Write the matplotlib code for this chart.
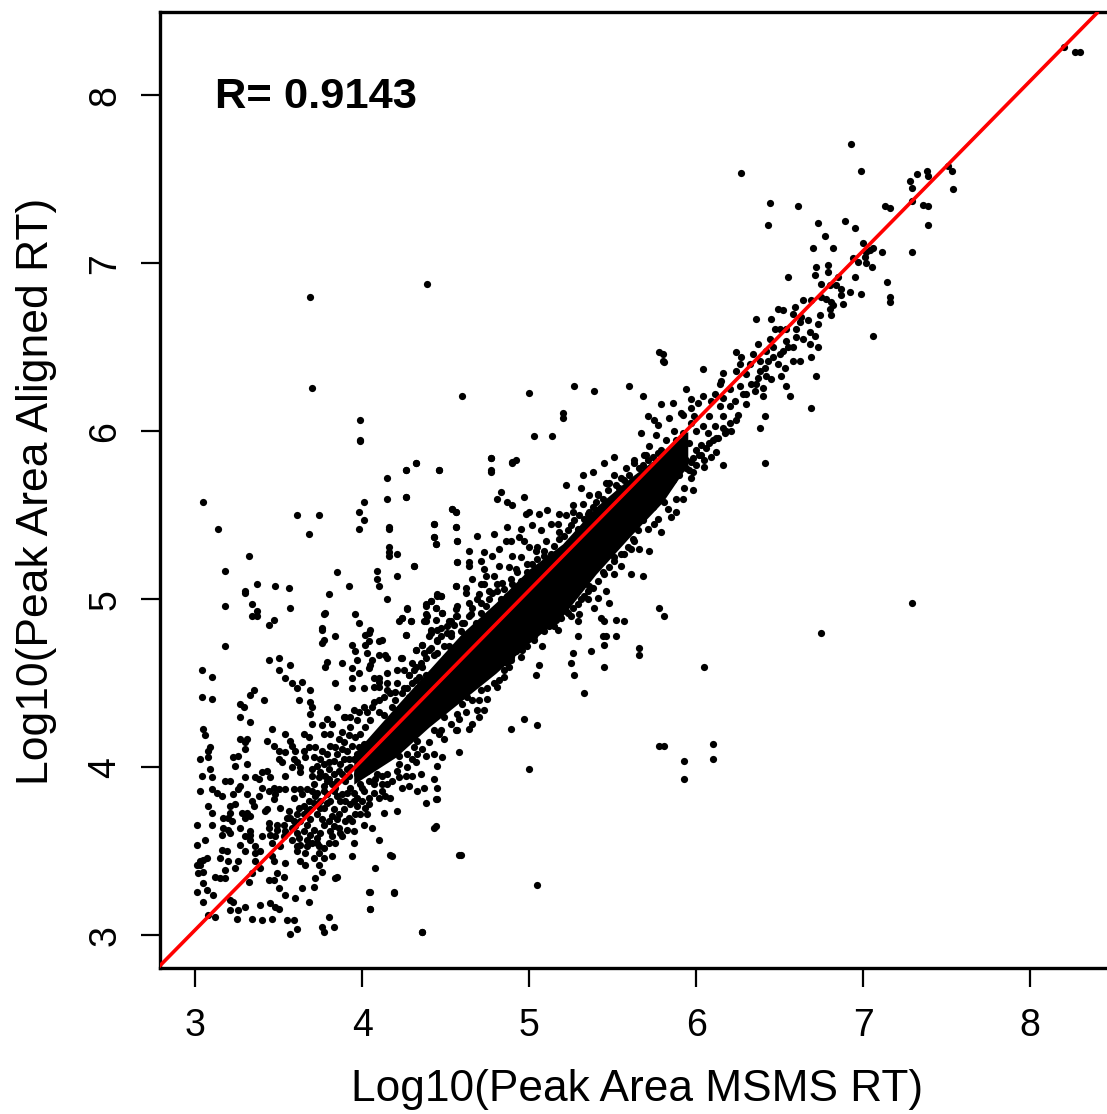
import matplotlib
matplotlib.use("Agg")
import matplotlib.pyplot as plt

plt.rcParams['font.family'] = ['Liberation Sans', 'DejaVu Sans']

x_ticks = [3, 4, 5, 6, 7, 8]
y_ticks = [3, 4, 5, 6, 7, 8]
x_label = "Log10(Peak Area MSMS RT)"
y_label = "Log10(Peak Area Aligned RT)"
r_text = "R= 0.9143"

line_x = [2.79, 8.40]
line_y = [2.82, 8.49]

# solid mass of overlapping points, read as an envelope
core_x = [3.95, 4.20, 4.40, 4.60, 4.80, 5.00, 5.20, 5.40, 5.60, 5.80, 5.95]
core_hi = [4.08, 4.36, 4.58, 4.80, 4.98, 5.18, 5.33, 5.55, 5.72, 5.87, 6.00]
core_lo = [3.90, 4.06, 4.24, 4.40, 4.56, 4.74, 4.90, 5.15, 5.37, 5.58, 5.80]

upper_left = [
 (3.05,5.58),(3.14,5.42),(3.32,5.26),(3.18,5.17),(3.30,5.05),(3.30,5.04),(3.37,5.09),(3.48,5.08),(3.56,5.07),(3.34,4.97),
 (3.18,4.96),(3.57,4.95),(3.37,4.93),(3.34,4.90),(3.37,4.90),(3.47,4.88),(3.44,4.85),(3.18,4.72),(3.04,4.58),(3.10,4.54),
 (3.44,4.64),(3.50,4.65),(3.50,4.58),(3.57,4.61),(3.54,4.53),(3.58,4.50),(3.64,4.51),(3.61,4.47),(3.69,4.46),(3.35,4.46),
 (3.33,4.43),(3.04,4.42),(3.10,4.41),(3.61,5.50),(3.74,5.50),(3.68,5.39),(3.99,5.94),(4.15,5.72),(4.26,5.77),(4.32,5.81),
 (4.46,5.77),(4.01,5.58),(4.15,5.60),(4.26,5.61),(3.98,5.52),(4.01,5.47),(3.98,5.42),(4.16,5.43),(4.16,5.42),(4.43,5.45),
 (4.56,5.43),(4.54,5.54),(4.56,5.52),(4.43,5.37),(4.44,5.33),(4.57,5.35),(4.16,5.31),(4.16,5.28),(4.16,5.26),(4.21,5.27),
 (4.57,5.22),(4.31,5.20),(4.21,5.14),(4.09,5.17),(3.85,5.16),(4.09,5.12),(4.10,5.08),(3.92,5.08),(4.56,5.08),(3.80,5.03),
 (4.15,5.00),(3.78,4.92),(3.77,4.91),(3.96,4.91),(3.98,4.86),(3.76,4.83),(3.76,4.82),(3.84,4.78),(4.05,4.82),(4.04,4.80),
 (4.02,4.79),(3.77,4.76),(3.76,4.74),(3.94,4.73),(4.04,4.75),(4.02,4.73),(4.12,4.76),(4.10,4.75),(3.96,4.69),(4.03,4.68),
 (4.10,4.67),(4.14,4.67),(4.15,4.65),(4.23,4.65),(3.97,4.64),(4.06,4.64),(3.79,4.63),(3.78,4.60),(3.88,4.62),(3.94,4.59),
 (4.05,4.61),(4.04,4.59),(3.98,4.56),(4.21,4.58),(4.15,4.56),(4.28,4.55),(3.94,4.53),(4.07,4.53),(4.10,4.53),(3.84,4.50),
 (4.10,4.51),(3.94,4.47),(4.01,4.47),(4.07,4.48),(4.10,4.48),(4.15,4.50),(4.15,4.46),(4.21,4.50),(4.27,4.95),(4.24,4.89),
 (4.22,4.87),(4.29,4.87),(4.26,4.79),(4.36,4.73),(4.32,4.70),(4.38,4.96),(4.41,4.99),(4.44,4.95),(4.45,5.02),(4.47,5.02),
 (4.39,4.90),(4.38,4.87),(4.44,4.88),(4.48,4.92),(4.52,4.87),(4.56,4.94),(4.56,4.90),(4.45,4.82),(4.41,4.80),(4.51,4.80),
 (4.40,4.70),(4.45,4.68),(4.52,4.72),(4.30,4.62),(4.25,4.58),(4.20,4.45),(4.25,4.47),(4.32,4.52),(4.36,4.60),(4.28,4.42),
]

lower_left = [
 (3.27,4.38),(3.29,4.36),(3.41,4.40),(3.62,4.40),(3.69,4.39),(3.70,4.36),(3.69,4.32),(3.70,4.26),(3.27,4.30),(3.33,4.27),
 (3.05,4.23),(3.06,4.19),(3.46,4.23),(3.54,4.20),(3.27,4.17),(3.31,4.17),(3.30,4.15),(3.43,4.16),(3.65,4.20),(3.68,4.18),
 (3.57,4.16),(3.58,4.13),(3.09,4.12),(3.08,4.10),(3.30,4.11),(3.47,4.13),(3.50,4.10),(3.54,4.09),(3.60,4.10),(3.65,4.10),
 (3.68,4.12),(3.03,4.05),(3.08,4.06),(3.23,4.06),(3.26,4.07),(3.24,4.01),(3.31,4.02),(3.50,4.05),(3.52,4.03),(3.59,4.05),
 (3.61,4.03),(3.66,4.06),(3.58,4.00),(3.63,4.00),(3.63,3.97),(3.09,3.99),(3.04,3.95),(3.10,3.94),(3.40,3.97),(3.43,3.98),
 (3.45,3.94),(3.30,3.94),(3.36,3.94),(3.38,3.93),(3.54,3.95),(3.18,3.92),(3.21,3.92),(3.70,3.95),(3.71,3.90),(3.79,3.92),
 (3.03,3.86),(3.10,3.87),(3.13,3.85),(3.16,3.83),(3.27,3.89),(3.26,3.87),(3.23,3.84),(3.31,3.84),(3.40,3.88),(3.44,3.86),
 (3.38,3.83),(3.34,3.80),(3.35,3.77),(3.47,3.88),(3.50,3.87),(3.54,3.87),(3.48,3.84),(3.47,3.81),(3.59,3.87),(3.63,3.87),
 (3.67,3.87),(3.59,3.82),(3.64,3.84),(3.70,3.86),(3.77,3.86),(3.08,3.77),(3.10,3.73),(3.21,3.77),(3.24,3.78),(3.21,3.73),
 (3.17,3.70),(3.20,3.70),(3.22,3.68),(3.28,3.73),(3.31,3.73),(3.30,3.70),(3.33,3.71),(3.42,3.74),(3.43,3.75),(3.51,3.76),
 (3.56,3.74),(3.01,3.66),(3.10,3.66),(3.17,3.64),(3.20,3.63),(3.27,3.64),(3.44,3.67),(3.49,3.66),(3.49,3.63),(3.44,3.64),
 (3.16,3.60),(3.21,3.61),(3.33,3.62),(3.33,3.60),(3.40,3.59),(3.30,3.59),(3.33,3.57),(3.45,3.60),(3.48,3.59),(3.53,3.59),
 (3.06,3.57),(3.01,3.54),(3.27,3.54),(3.46,3.55),(3.51,3.53),(3.16,3.51),(3.19,3.50),(3.30,3.50),(3.36,3.53),(3.36,3.49),
 (3.39,3.50),(3.15,3.46),(3.46,3.47),(3.61,3.53),(3.61,3.50),(3.67,3.53),(3.66,3.49),(3.73,3.55),(3.74,3.53),(3.77,3.52),
 (3.74,3.49),(3.77,3.46),(3.82,3.47),(3.84,3.55),(3.82,3.59),(3.94,3.47),(3.95,3.55),(4.10,3.57),(4.18,3.47),(4.58,3.48),
 (3.07,3.46),(3.05,3.45),(3.03,3.44),(3.01,3.42),(3.03,3.42),(3.02,3.37),(3.05,3.38),(3.20,3.44),(3.26,3.44),(3.24,3.40),
 (3.18,3.39),(3.36,3.44),(3.47,3.44),(3.54,3.43),(3.34,3.37),(3.39,3.40),(3.12,3.35),(3.15,3.34),(3.18,3.34),(3.49,3.37),
 (3.53,3.35),(3.32,3.32),(3.44,3.33),(3.47,3.33),(3.05,3.31),(3.63,3.44),(3.66,3.42),(3.71,3.46),(3.74,3.42),(3.76,3.38),
 (3.72,3.34),(3.85,3.35),(3.84,3.34),(4.08,3.40),(3.01,3.26),(3.07,3.27),(3.11,3.24),(3.50,3.28),(3.54,3.24),(3.64,3.28),
 (3.71,3.29),(4.05,3.26),(4.19,3.25),(3.21,3.21),(3.23,3.20),(3.05,3.20),(3.60,3.22),(3.39,3.18),(3.45,3.19),(3.48,3.17),
 (3.50,3.16),(3.30,3.17),(3.68,3.20),(4.05,3.16),(3.21,3.15),(3.26,3.15),(3.08,3.12),(3.12,3.11),(3.25,3.10),(3.34,3.10),
 (3.40,3.09),(3.46,3.10),(3.55,3.09),(3.59,3.09),(3.80,3.11),(3.76,3.05),(3.83,3.05),(3.61,3.04),(3.57,3.01),(3.77,3.02),
 (4.36,3.02),(4.43,3.64),(4.21,3.74),(4.13,3.73),(4.38,3.79),(4.44,3.81),(4.45,3.81),(4.45,3.88),(4.43,3.93),(4.37,3.88),
 (4.33,3.86),(4.24,3.88),(4.28,3.89),(4.48,4.06),(4.45,4.01),(4.43,4.08),(4.35,3.96),(4.58,4.09),(4.14,3.83),(4.17,3.82),
 (4.02,3.76),(3.99,3.72),(4.03,3.72),(4.01,3.66),(4.06,3.64),(3.95,3.62),(3.91,3.63),(3.87,3.61),(4.56,4.22),
]

lower_core = [
 (3.85,4.36),(3.95,4.34),(4.01,4.36),(4.07,4.39),(3.89,4.30),(3.79,4.29),(3.82,4.26),(3.76,4.25),(3.77,4.20),(3.81,4.20),
 (3.88,4.21),(3.93,4.24),(3.97,4.28),(3.99,4.20),(3.89,4.15),(3.81,4.13),(3.72,4.12),(3.76,4.10),(3.71,4.06),(3.75,4.05),
 (3.79,4.08),(3.85,4.08),(3.91,4.10),(3.73,4.01),(3.77,4.02),(3.83,4.04),(3.89,4.05),(3.95,4.05),(3.70,3.99),(3.80,3.99),
 (3.86,3.98),(3.91,3.99),(3.74,3.94),(3.80,3.93),(3.85,3.92),(3.97,3.96),(4.03,3.98),(4.09,3.96),(4.15,3.96),(4.21,3.98),
 (3.99,3.90),(4.07,3.90),(4.15,3.90),(3.93,3.88),(4.01,3.86),(3.83,3.86),(3.88,3.84),(3.97,3.82),(4.04,3.82),(3.71,3.79),
 (3.75,3.80),(3.81,3.80),(3.87,3.80),(3.93,3.78),(3.65,3.77),(3.69,3.75),(3.77,3.76),(3.83,3.75),(3.89,3.75),(3.97,3.77),
 (3.61,3.72),(3.65,3.72),(3.73,3.72),(3.59,3.68),(3.63,3.68),(3.82,3.71),(3.85,3.69),(3.77,3.66),(3.83,3.65),(3.67,3.66),
 (3.71,3.63),(3.65,3.62),(3.61,3.61),(3.75,3.61),(3.69,3.60),(3.92,3.95),(3.98,4.02),(4.03,4.05),(4.08,4.05),(3.93,4.00),
 (3.62,3.76),(3.68,3.80),(3.73,3.85),(3.79,3.84),(3.84,3.88),(3.90,3.92),(3.57,3.70),(3.53,3.66),(3.58,3.64),(4.12,3.86),
 (4.22,3.94),(4.27,4.00),(4.32,4.03),(4.38,4.07),(4.30,3.95),(4.10,3.82),(4.04,3.78),(3.96,3.72),(3.90,3.68),(3.86,3.64),
 (3.90,4.30),(3.93,4.30),(3.98,4.33),(4.03,4.33),(4.06,4.36),(4.10,4.40),(4.13,4.42),(3.92,4.19),(3.96,4.18),(4.02,4.24),
 (4.05,4.28),(3.86,4.17),(3.84,4.12),(3.88,4.11),(3.94,4.13),(3.98,4.12),(3.87,4.02),(3.92,4.05),(3.97,4.08),(4.01,4.14),
 (3.80,4.03),(3.75,3.97),(3.78,3.95),(3.83,3.96),(3.88,3.96),(3.77,3.89),(3.82,3.90),(3.72,3.83),(3.75,3.76),(3.79,3.79),
 (3.85,3.83),(3.91,3.85),(3.95,3.85),(4.00,3.88),(4.04,3.92),(4.08,3.93),(4.12,3.95),(3.90,3.80),(3.95,3.80),(4.00,3.80),
 (4.07,3.85),(4.12,3.90),(4.18,3.92),(4.26,3.95),(4.22,4.02),(4.30,4.05),(4.33,4.08),(3.86,3.72),(3.80,3.68),(3.76,3.69),
 (3.69,3.69),(3.67,3.74),(3.55,3.70),(3.60,3.65),(3.62,3.58),(3.58,3.57),(3.54,3.62),(3.88,3.59),(3.81,3.62),(3.92,3.70),
 (3.94,3.68),(3.73,3.58),(3.70,3.55),(3.80,3.55),(3.67,3.57),(3.63,3.54),(4.17,4.44),(4.20,4.40),(4.24,4.44),(4.27,4.47),
 (4.30,4.50),(4.34,4.54),(4.18,4.36),(4.13,4.31),(4.10,4.33),(4.34,4.46),(4.38,4.55),(4.22,4.35),
]

upper_core = [
 (4.77,5.84),(4.77,5.76),(4.90,5.81),(4.92,5.83),(4.32,5.81),(4.26,5.77),(4.46,5.77),(4.26,5.61),(5.32,5.74),(5.38,5.76),
 (5.45,5.81),(5.51,5.85),(5.22,5.68),(5.31,5.66),(5.51,5.74),(5.46,5.69),(4.83,5.64),(4.81,5.60),(4.97,5.61),(4.87,5.58),
 (4.90,5.56),(4.54,5.54),(4.56,5.52),(5.00,5.52),(4.98,5.51),(5.11,5.53),(5.06,5.51),(5.18,5.51),(5.22,5.50),(5.26,5.56),
 (5.26,5.52),(5.36,5.62),(4.43,5.45),(4.56,5.43),(4.87,5.43),(4.95,5.42),(5.02,5.44),(5.07,5.41),(5.13,5.45),(4.79,5.39),
 (4.69,5.38),(4.43,5.37),(4.57,5.35),(4.44,5.33),(4.86,5.35),(4.89,5.35),(4.94,5.37),(4.97,5.35),(4.64,5.29),(4.82,5.30),
 (5.00,5.31),(5.05,5.31),(5.09,5.29),(4.73,5.28),(4.78,5.26),(4.90,5.26),(4.95,5.25),(4.57,5.22),(4.64,5.22),(4.71,5.23),
 (4.31,5.20),(4.64,5.20),(4.82,5.20),(4.73,5.18),(4.88,5.19),(4.99,5.21),(4.66,5.12),(4.74,5.14),(4.79,5.14),(4.89,5.12),
 (4.56,5.08),(4.62,5.07),(4.71,5.09),(4.84,5.10),(4.45,5.03),(4.47,5.02),(4.62,5.04),(4.70,5.03),(4.81,5.05),(4.41,4.99),
 (4.38,4.97),(4.44,4.95),(4.64,4.98),(4.57,4.96),(4.71,4.98),(4.27,4.94),(4.24,4.89),(4.29,4.87),(4.38,4.91),(4.48,4.92),
 (4.37,4.87),(4.53,4.87),(4.65,4.91),(4.26,4.79),(4.36,4.73),(4.32,4.70),(4.41,4.82),(4.47,4.83),(4.53,4.80),(4.60,4.86),
 (4.40,4.78),(4.24,4.65),(4.45,4.75),(4.37,4.68),(4.32,4.60),(4.28,4.55),(4.76,5.05),(4.92,5.18),(5.10,5.35),(5.18,5.40),
 (5.30,5.50),(5.36,5.52),(5.41,5.62),(5.55,5.72),(5.58,5.78),(5.63,5.83),(5.69,5.86),(5.74,5.85),(5.68,5.80),
 (4.31,4.58),(4.38,4.65),(4.43,4.67),(4.49,4.72),(4.45,4.76),(4.53,4.78),(4.59,4.81),(4.57,4.90),(4.64,4.90),(4.71,4.92),
 (4.69,5.00),(4.76,5.00),(4.83,5.00),(4.73,5.09),(4.81,5.09),(4.90,5.09),(4.93,5.16),(5.02,5.21),(5.11,5.21),(5.04,5.29),
 (5.15,5.32),(5.23,5.41),(5.17,5.45),(5.27,5.47),(5.35,5.51),(5.32,5.57),(5.41,5.63),(5.48,5.69),(5.57,5.71),(5.63,5.81),
 (5.71,5.83),(5.77,5.87),(5.82,5.81),(5.88,5.85),(5.94,5.83),(4.35,4.62),(4.41,4.71),(4.47,4.78),(4.51,4.84),(4.55,4.85),
 (4.61,4.86),(4.66,4.95),(4.68,4.86),(4.74,4.96),(4.78,5.04),(4.85,5.06),(4.87,5.02),(4.95,5.11),(4.99,5.16),(5.05,5.24),
 (5.09,5.26),(5.13,5.27),(5.18,5.36),(5.21,5.38),(5.25,5.44),(5.29,5.42),(5.33,5.48),(5.38,5.55),(5.40,5.58),(5.44,5.60),
 (5.47,5.65),(5.52,5.68),(5.54,5.66),(5.60,5.74),(5.66,5.78),(5.75,5.78),(5.80,5.76),(5.85,5.78),(5.90,5.79),(5.94,5.78),
 (5.97,5.82),(6.02,5.86),(6.06,5.90),(6.10,5.95),(6.13,5.96),(6.18,6.00),
]

lower_core_right = [
 (5.93,5.66),(5.98,5.65),(5.97,5.72),(5.98,5.76),(5.81,5.58),(5.88,5.60),(5.83,5.54),(5.85,5.49),(5.77,5.48),(5.71,5.42),
 (5.79,5.40),(5.72,5.29),(5.63,5.35),(5.61,5.30),(5.57,5.27),(5.51,5.25),(5.61,5.15),(5.68,5.14),(5.51,5.15),(5.46,5.05),
 (5.41,5.01),(5.48,4.98),(5.43,4.89),(5.45,4.87),(5.52,4.88),(5.57,4.87),(5.39,4.95),(5.35,5.00),(5.30,4.91),(5.25,4.90),
 (5.29,4.87),(5.78,4.95),(5.81,4.90),(5.44,4.78),(5.46,4.78),(5.52,4.78),(5.29,4.78),(5.45,4.73),(5.66,4.71),(5.66,4.67),
 (5.37,4.69),(5.26,4.68),(5.25,4.62),(5.45,4.60),(5.27,4.55),(5.33,4.44),(5.06,4.61),(5.04,4.55),(5.09,4.81),(5.08,4.72),
 (5.15,4.84),(5.17,4.82),(4.93,4.72),(4.95,4.66),(4.89,4.64),(4.85,4.54),(4.81,4.48),(4.75,4.41),(4.70,4.40),(4.73,4.34),
 (4.69,4.34),(4.62,4.33),(4.70,4.30),(4.58,4.29),(4.66,4.26),(4.64,4.23),(4.57,4.22),(4.97,4.29),(5.05,4.25),(4.89,4.23),
 (5.81,4.13),(4.49,4.17),(4.47,4.22),(5.31,5.00),(5.22,4.93),(5.12,4.90),(5.03,4.76),(4.96,4.70),(4.88,4.60),(5.55,5.20),
 (5.66,5.30),(5.75,5.45),(5.88,5.52),(5.92,5.60),(5.36,5.08),(5.44,5.16),
 (4.33,4.16),(4.43,4.22),(4.49,4.30),(4.57,4.32),(4.63,4.42),(4.71,4.46),(4.79,4.50),(4.85,4.58),(4.89,4.66),(4.95,4.74),
 (5.03,4.78),(5.09,4.86),(5.19,4.89),(5.29,4.97),(5.35,5.05),(5.45,5.15),(5.51,5.23),(5.59,5.31),(5.65,5.41),(5.71,5.53),
 (5.79,5.63),(5.86,5.71),(5.96,5.77),(4.22,4.07),(4.27,4.08),(4.31,4.12),(4.36,4.11),(4.40,4.15),(4.46,4.20),(4.53,4.26),
 (4.60,4.38),(4.66,4.40),(4.75,4.47),(4.82,4.52),(4.87,4.62),(4.92,4.69),(4.99,4.72),(5.06,4.82),(5.12,4.84),(5.16,4.88),
 (5.23,4.92),(5.26,4.95),(5.33,5.02),(5.38,5.07),(5.41,5.11),(5.48,5.19),(5.55,5.27),(5.62,5.36),(5.68,5.47),(5.74,5.55),
 (5.82,5.66),(5.90,5.74),(6.00,5.80),(6.03,5.86),(6.08,5.93),(6.12,5.96),(6.17,5.99),(6.20,6.05),(6.25,6.10),(6.30,6.22),
 (6.33,6.28),(6.37,6.32),(6.41,6.38),(6.46,6.44),(6.50,6.46),(6.55,6.50),
]

far_points = [
 (5.78,4.13),(5.93,4.04),(5.93,3.93),(6.10,4.14),(6.10,4.05),(6.05,4.60),(5.00,3.99),(5.05,3.30),(4.59,3.48),(4.44,3.65),
 (4.36,3.02),(4.04,3.26),(4.05,3.16),(4.19,3.26),(4.17,3.48),(6.75,4.80),(7.29,4.98),(3.69,6.80),(3.70,6.26),(4.39,6.88),
 (3.99,6.07),(3.99,5.95),(4.60,6.21),(5.00,6.23),(5.03,5.97),(5.27,6.27),(5.39,6.24),(5.14,5.97),(5.20,6.11),(5.20,6.08),
 (5.60,6.27),(5.78,6.47),(5.80,6.42),(5.68,6.21),(4.77,5.84),(4.77,5.77),(4.90,5.82),(8.20,8.29),(8.27,8.26),(8.30,8.26),
 (7.51,7.58),(7.53,7.55),(7.54,7.44),
]

upper_right = [
 (6.93,7.71),(6.99,7.55),(6.27,7.54),(6.44,7.36),(6.61,7.34),(6.43,7.23),(6.73,7.24),(6.89,7.25),(6.95,7.21),(6.77,7.16),
 (6.70,7.09),(6.82,7.09),(7.00,7.12),(6.94,7.03),(7.06,7.09),(7.04,7.08),(7.02,7.07),(7.11,7.07),(7.01,7.04),(6.97,7.01),
 (7.02,7.00),(7.05,6.98),(6.95,6.92),(7.14,6.89),(6.72,6.98),(6.79,6.99),(6.79,6.95),(6.71,6.93),(6.55,6.92),(6.85,6.92),
 (6.75,6.88),(6.80,6.87),(6.84,6.87),(6.87,6.85),(6.92,6.83),(6.99,6.82),(6.87,6.81),(6.75,6.80),(6.78,6.79),(6.81,6.77),
 (6.82,6.75),(6.88,6.76),(6.80,6.73),(7.16,6.80),(7.16,6.77),(7.29,7.07),(7.39,7.23),(7.36,7.35),(7.39,7.34),(7.29,7.37),
 (7.13,7.34),(7.16,7.33),(7.28,7.49),(7.29,7.45),(7.32,7.53),(7.38,7.55),(7.39,7.52),(7.06,6.57),(6.69,6.14),(6.64,6.78),
 (6.69,6.78),(6.49,6.73),(6.52,6.72),(6.59,6.74),(6.58,6.70),(6.36,6.67),(6.45,6.67),(6.67,6.66),(6.74,6.69),(6.81,6.69),
 (6.73,6.64),(6.63,6.68),(6.62,6.65),(6.47,6.61),(6.50,6.61),(6.54,6.61),(6.60,6.61),(6.68,6.59),(6.71,6.57),(6.60,6.56),
 (6.44,6.55),(6.54,6.54),(6.64,6.55),(6.68,6.52),(6.73,6.50),(6.58,6.50),(6.37,6.52),(6.46,6.50),(6.52,6.48),(6.24,6.47),
 (5.80,6.46),(5.81,6.41),(6.27,6.44),(6.34,6.46),(6.42,6.48),(6.26,6.40),(6.32,6.40),(6.38,6.42),(6.43,6.42),(6.49,6.40),
 (6.53,6.38),(6.58,6.42),(6.62,6.42),(6.69,6.44),(6.72,6.33),(6.04,6.37),(6.16,6.35),(6.24,6.36),(6.30,6.34),(6.38,6.36),
 (6.42,6.33),(6.45,6.31),(6.51,6.33),(6.54,6.27),(6.56,6.21),(6.15,6.30),(6.14,6.28),(6.26,6.27),(6.36,6.28),(6.40,6.26),
 (5.94,6.25),(6.20,6.25),(6.28,6.22),(6.35,6.24),(6.40,6.21),(6.11,6.22),(6.04,6.21),(5.97,6.19),(5.86,6.17),(5.79,6.16),
 (6.01,6.17),(6.09,6.18),(6.16,6.20),(6.23,6.18),(6.30,6.16),(5.97,6.14),(6.14,6.15),(6.20,6.15),(5.91,6.11),(5.92,6.10),
 (5.71,6.09),(5.84,6.08),(5.75,6.07),(5.77,6.04),(5.99,6.09),(6.08,6.09),(6.16,6.09),(6.24,6.07),(6.41,6.09),(6.38,6.02),
 (6.16,6.02),(6.21,6.00),(5.97,6.05),(6.04,6.03),(6.11,6.03),(5.87,6.00),(5.92,5.99),(6.00,6.00),(6.07,5.99),(5.67,5.99),
 (5.76,5.98),(5.82,5.95),(5.88,5.95),(5.96,5.93),(6.03,5.92),(5.72,5.91),(5.79,5.89),(5.87,5.89),(5.92,5.87),(6.00,5.89),
 (6.12,5.88),(6.09,5.85),(6.05,5.83),(5.98,5.84),(5.90,5.83),(5.84,5.83),(6.16,5.80),(6.41,5.81),(6.05,5.79),(5.92,5.79),
 (5.70,5.86),(5.77,5.82),
]

groups = [upper_left, lower_left, lower_core, upper_core, lower_core_right, far_points, upper_right]

fig = plt.figure(figsize=(11.07, 11.14), dpi=100)
ax = fig.add_axes([160/1107, (1114-968)/1114, (1107-160)/1107, (968-12)/1114])
ax.set_xlim(2.79, 8.46)
ax.set_ylim(2.806, 8.496)

ax.fill_between(core_x, core_lo, core_hi, color='black', linewidth=0, zorder=2)
for group in groups:
    xs = [p[0] for p in group]
    ys = [p[1] for p in group]
    ax.scatter(xs, ys, s=27, color='black', linewidths=0, zorder=3)
ax.plot(line_x, line_y, color='#ff0000', lw=2.6, zorder=4)

ax.spines['right'].set_visible(False)
for name in ('left', 'bottom', 'top'):
    ax.spines[name].set_linewidth(2.4)

ax.set_xticks(x_ticks)
ax.set_yticks(y_ticks)
ax.tick_params(axis='both', length=13.5, width=1.6, labelsize=27, pad=13)
ax.tick_params(axis='x', pad=15)
for lab in ax.get_yticklabels():
    lab.set_rotation(90)
    lab.set_va('center')

ax.text(3.12, 7.99, r_text, fontsize=31.3, fontweight='bold', va='center', ha='left')
fig.text(637/1107, 1-1090/1114, x_label, fontsize=31.9, ha='center', va='center')
fig.text(37/1107, 1-491/1114, y_label, fontsize=32, rotation=90, ha='center', va='center')

fig.savefig('out.png', dpi=100)
